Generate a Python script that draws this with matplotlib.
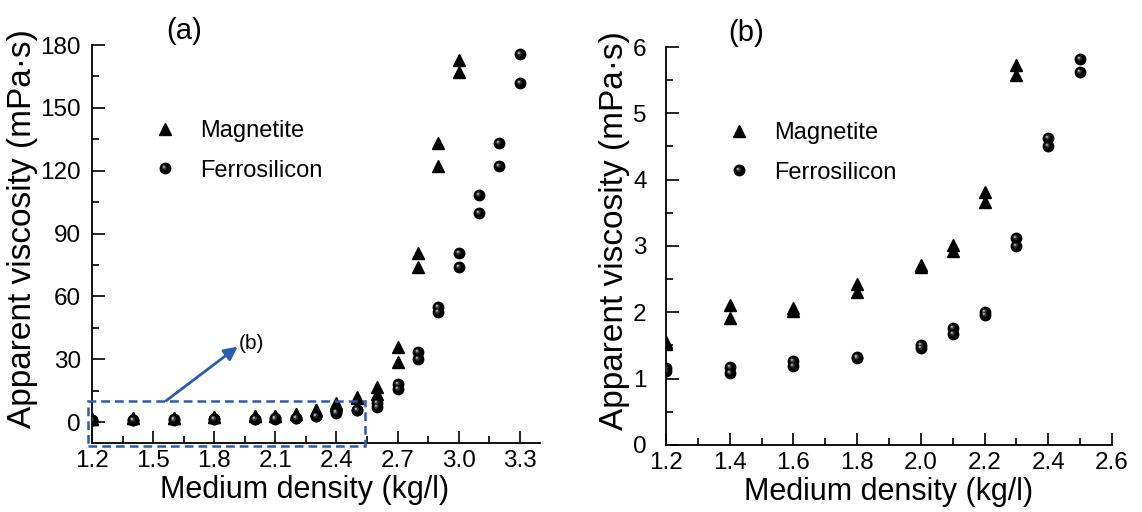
import numpy as np
from matplotlib import pyplot as plt
from matplotlib.path import Path
from matplotlib.patches import Rectangle
from matplotlib.ticker import MultipleLocator

# Medium density (kg/l) and apparent viscosity (mPa·s), two readings per density
mag_density = [1.2, 1.2, 1.4, 1.4, 1.6, 1.6, 1.8, 1.8, 2.0, 2.0, 2.1, 2.1, 2.2, 2.2,
               2.3, 2.3, 2.4, 2.4, 2.5, 2.5, 2.6, 2.6, 2.7, 2.7, 2.8, 2.8, 2.9, 2.9,
               3.0, 3.0]
mag_visc = [1.55, 1.52, 2.11, 1.92, 2.06, 2.02, 2.42, 2.31, 2.72, 2.68, 3.02, 2.93,
            3.82, 3.67, 5.73, 5.58, 9.2, 8.3, 12.0, 11.5, 16.7, 13.3, 35.7, 28.6,
            80.5, 73.8, 133, 122, 173, 167]

fe_density = [1.2, 1.2, 1.4, 1.4, 1.6, 1.6, 1.8, 1.8, 2.0, 2.0, 2.1, 2.1, 2.2, 2.2,
              2.3, 2.3, 2.4, 2.4, 2.5, 2.5, 2.6, 2.6, 2.7, 2.7, 2.8, 2.8, 2.9, 2.9,
              3.0, 3.0, 3.1, 3.1, 3.2, 3.2, 3.3, 3.3]
fe_visc = [1.16, 1.11, 1.17, 1.09, 1.26, 1.19, 1.33, 1.31, 1.51, 1.46, 1.77, 1.68,
           2.00, 1.96, 3.12, 3.00, 4.63, 4.50, 5.82, 5.63, 9.0, 7.1, 18.0, 16.0,
           33.5, 30.0, 55.0, 52.4, 80.5, 73.8, 108.6, 100, 133, 122, 175.7, 162]

plt.rcParams['font.family'] = ['Liberation Sans', 'DejaVu Sans']


def highlight(cx, cy, r):
    # small off-centre disc, kept at the scale of a unit marker
    anchor = Path([[1, 1], [-1, -1]], [Path.MOVETO, Path.MOVETO])
    disc = Path.circle(center=(cx, cy), radius=r)
    return Path.make_compound_path(anchor, disc)


hl_mid = highlight(-0.22, 0.22, 0.45)
hl_top = highlight(-0.32, 0.32, 0.2)


def draw_panel(ax, label_x):
    tri, = ax.plot(mag_density, mag_visc, ls='none', marker='^', ms=8.5,
                   color='black', mec='black', zorder=3)
    ball, = ax.plot(fe_density, fe_visc, ls='none', marker='o', ms=7.5,
                    color='black', mec='black', zorder=3)
    h1, = ax.plot(fe_density, fe_visc, ls='none', marker=hl_mid, ms=7.5,
                  color='#3a3a3a', mew=0, zorder=4)
    h2, = ax.plot(fe_density, fe_visc, ls='none', marker=hl_top, ms=7.5,
                  color='#b0b0b0', mew=0, zorder=5)
    for s in ['top', 'right']:
        ax.spines[s].set_visible(False)
    for s in ['left', 'bottom']:
        ax.spines[s].set_linewidth(1.3)
    ax.tick_params(which='major', direction='in', length=9, width=1.2, labelsize=17.5)
    ax.tick_params(which='minor', direction='in', length=5, width=1.2)
    ax.set_xlabel('Medium density (kg/l)', fontsize=22, labelpad=2, x=label_x)
    ax.set_ylabel('Apparent viscosity (mPa·s)', fontsize=24, labelpad=2, y=0.54)
    ax.legend([tri, (ball, h1, h2)], ['Magnetite', 'Ferrosilicon'],
              frameon=False, fontsize=17, numpoints=1, handlelength=1.0,
              handletextpad=1.0, labelspacing=0.75, loc='upper left',
              bbox_to_anchor=(0.089, 0.865))


fig = plt.figure(figsize=(11.42, 5.12), dpi=100)

# (a) full density range
ax1 = fig.add_axes([0.0806, 0.1348, 0.3923, 0.7773])
draw_panel(ax1, 0.475)
ax1.set_xlim(1.2, 3.4)
ax1.set_ylim(-10, 180)
ax1.xaxis.set_major_locator(MultipleLocator(0.3))
ax1.xaxis.set_minor_locator(MultipleLocator(0.15))
ax1.yaxis.set_major_locator(MultipleLocator(30))
ax1.yaxis.set_minor_locator(MultipleLocator(15))
ax1.xaxis.set_major_formatter(lambda v, p: f'{v:.1f}')
ax1.tick_params(axis='y', pad=8)
ax1.tick_params(axis='x', pad=5)
ax1.text(0.165, 1.0, '(a)', transform=ax1.transAxes, fontsize=21, va='bottom')

# zoom box and arrow pointing to panel (b)
box = Rectangle((1.18, -11.5), 1.36, 21.5, fill=False, ec='#2a5cb0', lw=1.8,
                ls=(0, (3.5, 2)), clip_on=False, zorder=6)
ax1.add_patch(box)
ax1.annotate('', xy=(1.915, 36), xytext=(1.564, 10.2),
             arrowprops=dict(arrowstyle='-|>', color='#2a5cb0', lw=2,
                             mutation_scale=20, shrinkA=0, shrinkB=0),
             zorder=6)
ax1.text(1.922, 37.5, '(b)', fontsize=15, va='center', ha='left')

# (b) low-density range
ax2 = fig.add_axes([0.5832, 0.1309, 0.3905, 0.7773])
draw_panel(ax2, 0.5)
ax2.set_xlim(1.2, 2.6)
ax2.set_ylim(0, 6)
ax2.xaxis.set_major_locator(MultipleLocator(0.2))
ax2.xaxis.set_minor_locator(MultipleLocator(0.1))
ax2.yaxis.set_major_locator(MultipleLocator(1))
ax2.yaxis.set_minor_locator(MultipleLocator(0.5))
ax2.xaxis.set_major_formatter(lambda v, p: f'{v:.1f}')
ax2.tick_params(axis='y', pad=14)
ax2.tick_params(axis='x', pad=5)
ax2.text(0.14, 1.0, '(b)', transform=ax2.transAxes, fontsize=21, va='bottom')

fig.savefig('out.png', dpi=100)
